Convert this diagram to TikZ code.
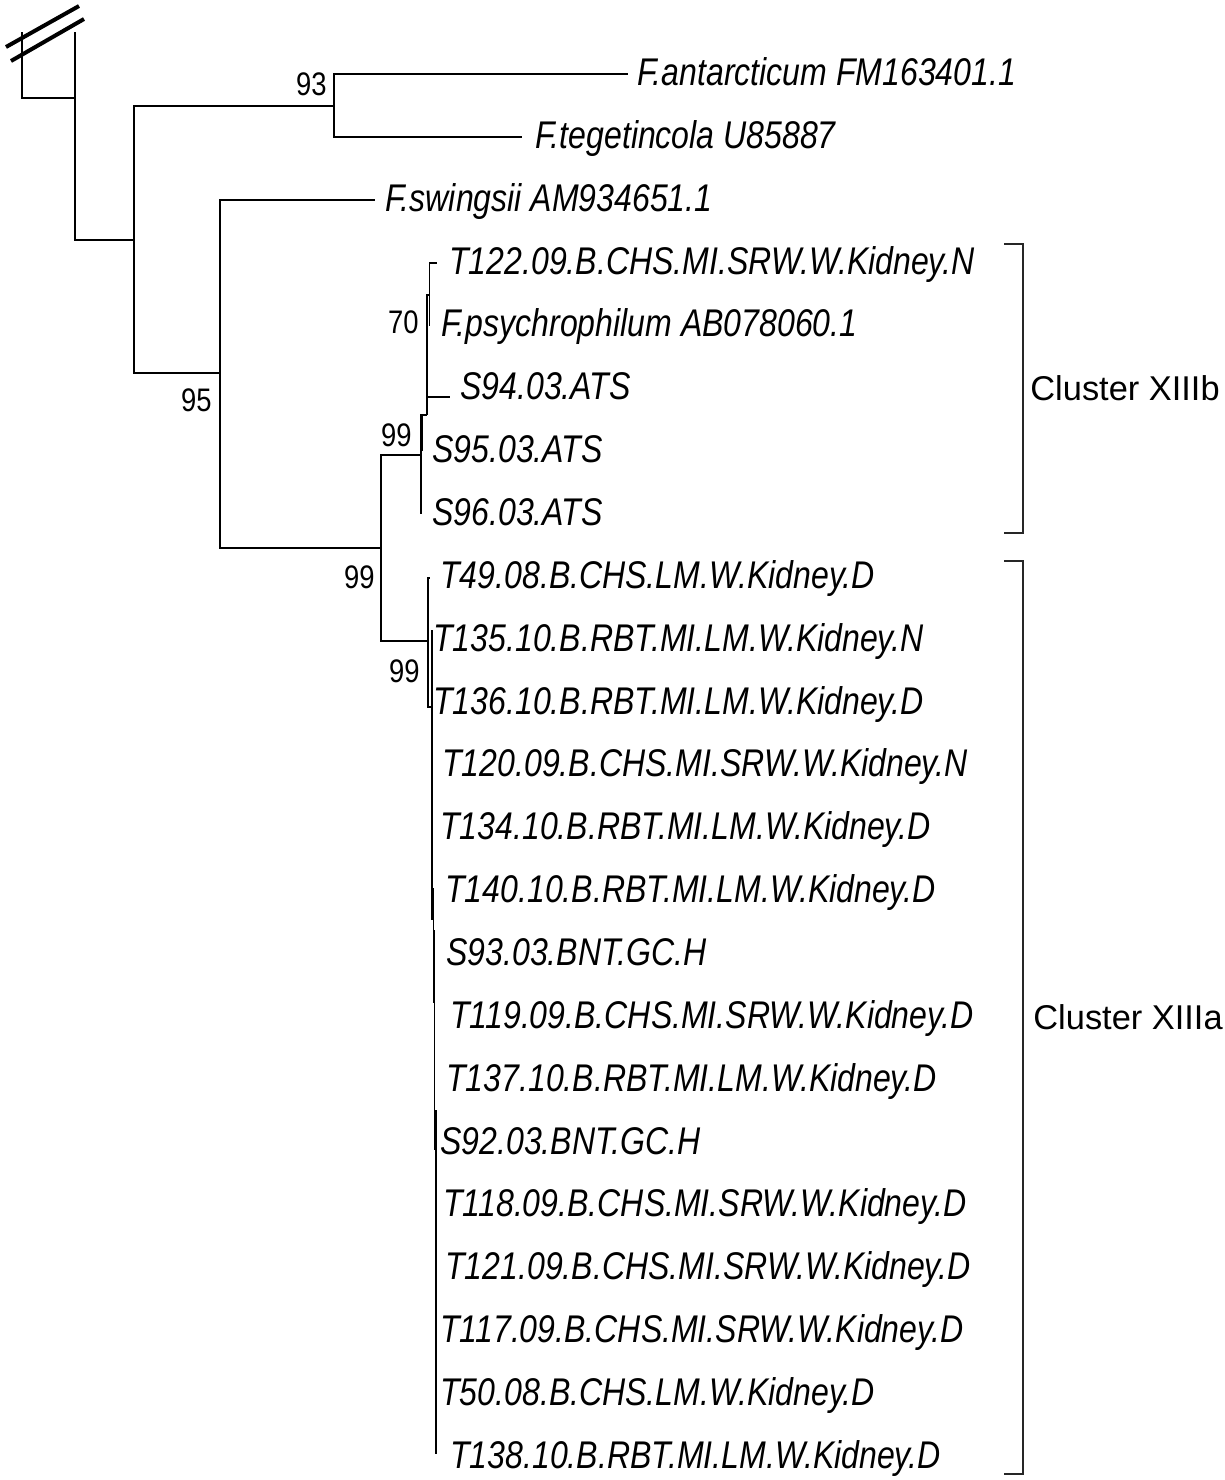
\documentclass[tikz,border=0pt]{standalone}
\usepackage{fontspec}
\setmainfont{Liberation Sans}
\newfontfamily\taxonfont[FakeStretch=0.83]{Liberation Sans Italic}
\newfontfamily\numfont[FakeStretch=0.84]{Liberation Sans}

\begin{document}
\begin{tikzpicture}[
  x=0.5pt, y=-0.5pt,
  branch/.style={line width=0.75pt, black},
  cutmark/.style={line width=2pt, black},
  bracket/.style={line width=0.8pt, black!85},
  taxon/.style={anchor=base west, inner sep=0pt,
    font=\taxonfont\fontsize{19.3}{22}\selectfont},
  boot/.style={anchor=base east, inner sep=0pt,
    font=\numfont\fontsize{16.3}{19}\selectfont},
  cluster/.style={anchor=west, inner sep=0pt,
    font=\fontsize{17.2}{21}\selectfont},
]

\useasboundingbox (0,0) rectangle (1225,1480);

% =============================================
% Root stub with break marks
% =============================================
\coordinate (ogL) at (22,32);
\coordinate (ogR) at (75,32);
\coordinate (ogJ) at (75,98);
\coordinate (nRoot) at (134,240);
\draw[branch] (ogL) |- (ogJ);
\draw[branch] (ogR) |- (nRoot);
\draw[cutmark] (6,47) -- (79,6);
\draw[cutmark] (11,61) -- (84,19);

% =============================================
% Internal nodes
% =============================================
\coordinate (n93) at (334,106);
\coordinate (n95) at (220,373);
\coordinate (n99a) at (381,548);
\coordinate (n99b) at (421,455);
\coordinate (nB) at (427,415);
\coordinate (nC) at (429.5,295);
\coordinate (n99c) at (428,641);
\coordinate (nE) at (432,707);

% Leaf tips
\coordinate (tAnt) at (628,74);
\coordinate (tTeg) at (522,137);
\coordinate (tSwi) at (375,200);
\coordinate (tT122) at (437,263);
\coordinate (tFps) at (429.5,326);
\coordinate (tS94) at (450,397);
\coordinate (tS95) at (422.5,451);
\coordinate (tS96) at (421,514);
\coordinate (tT49) at (430,578);

% Branches
\draw[branch] (nRoot) |- (n93);
\draw[branch] (nRoot) |- (n95);
\draw[branch] (n93) |- (tAnt);
\draw[branch] (n93) |- (tTeg);
\draw[branch] (n95) |- (tSwi);
\draw[branch] (n95) |- (n99a);
\draw[branch] (n99a) |- (n99b);
\draw[branch] (n99a) |- (n99c);

% Cluster XIIIb subtree
\draw[branch] (n99b) |- (nB);
\draw[branch] (n99b) |- (tS96);
\draw[branch] (nB) -| (tS95);
\draw[branch] (nB) |- (nC);
\draw[branch] (nB) |- (tS94);
\draw[branch] (nC) |- (tT122);
\draw[branch] (nC) |- (tFps);

% Cluster XIIIa subtree
\draw[branch] (n99c) |- (tT49);
\draw[branch] (n99c) |- (nE);
\coordinate (eTop) at (432,630);
\coordinate (eMid) at (432,920);
\coordinate (f1a) at (433.5,888);
\coordinate (f1b) at (433.5,1003);
\coordinate (f2a) at (434.5,930);
\coordinate (f2b) at (434.5,1150);
\coordinate (f3a) at (436,1110);
\coordinate (f3b) at (436,1454);
\coordinate (f4a) at (435.3,1140);
\coordinate (f4b) at (435.3,1330);
\draw[branch] (eTop) -- (eMid);
\draw[branch] (f1a) -- (f1b);
\draw[branch] (f2a) -- (f2b);
\draw[branch] (f3a) -- (f3b);
\draw[branch] (f4a) -- (f4b);

% =============================================
% Bootstrap values
% =============================================
\node[boot] (b93) at (327,95) {93};
\node[boot] (b95) at (212,411) {95};
\node[boot] (b70) at (419,333) {70};
\node[boot] (b99b) at (412,446) {99};
\node[boot] (b99a) at (375,588) {99};
\node[boot] (b99c) at (420,682) {99};

% =============================================
% Taxon labels
% =============================================
\node[taxon] (lAnt) at (637,85.5) {F.antarcticum FM163401.1};
\node[taxon] (lTeg) at (535,148.4) {F.tegetincola U85887};
\node[taxon] (lSwi) at (385,211.2) {F.swingsii AM934651.1};
\node[taxon] (lT122) at (449,274) {T122.09.B.CHS.MI.SRW.W.Kidney.N};
\node[taxon] (lFps) at (441,336.9) {F.psychrophilum AB078060.1};
\node[taxon] (lS94) at (460,399.8) {S94.03.ATS};
\node[taxon] (lS95) at (432,462.6) {S95.03.ATS};
\node[taxon] (lS96) at (432,525.5) {S96.03.ATS};
\node[taxon] (lT49) at (440,588.3) {T49.08.B.CHS.LM.W.Kidney.D};
\node[taxon] (lT135) at (433,651.2) {T135.10.B.RBT.MI.LM.W.Kidney.N};
\node[taxon] (lT136) at (433,714) {T136.10.B.RBT.MI.LM.W.Kidney.D};
\node[taxon] (lT120) at (442,776.9) {T120.09.B.CHS.MI.SRW.W.Kidney.N};
\node[taxon] (lT134) at (440,839.7) {T134.10.B.RBT.MI.LM.W.Kidney.D};
\node[taxon] (lT140) at (445,902.6) {T140.10.B.RBT.MI.LM.W.Kidney.D};
\node[taxon] (lS93) at (446,965.4) {S93.03.BNT.GC.H};
\node[taxon] (lT119) at (450,1028.3) {T119.09.B.CHS.MI.SRW.W.Kidney.D};
\node[taxon] (lT137) at (446,1091.1) {T137.10.B.RBT.MI.LM.W.Kidney.D};
\node[taxon] (lS92) at (440,1154) {S92.03.BNT.GC.H};
\node[taxon] (lT118) at (443,1216.8) {T118.09.B.CHS.MI.SRW.W.Kidney.D};
\node[taxon] (lT121) at (445,1279.7) {T121.09.B.CHS.MI.SRW.W.Kidney.D};
\node[taxon] (lT117) at (440,1342.5) {T117.09.B.CHS.MI.SRW.W.Kidney.D};
\node[taxon] (lT50) at (440,1405.4) {T50.08.B.CHS.LM.W.Kidney.D};
\node[taxon] (lT138) at (450,1468.2) {T138.10.B.RBT.MI.LM.W.Kidney.D};

% =============================================
% Cluster brackets
% =============================================
\coordinate (bbTop) at (1004,244);
\coordinate (bbBot) at (1004,533);
\draw[bracket] (bbTop) -- ++(19,0) |- (bbBot);
\node[cluster] (cXIIIb) at (1030,388) {Cluster XIIIb};

\coordinate (baTop) at (1004,561);
\coordinate (baBot) at (1004,1474);
\draw[bracket] (baTop) -- ++(19,0) |- (baBot);
\node[cluster] (cXIIIa) at (1033,1017) {Cluster XIIIa};

\end{tikzpicture}
\end{document}
